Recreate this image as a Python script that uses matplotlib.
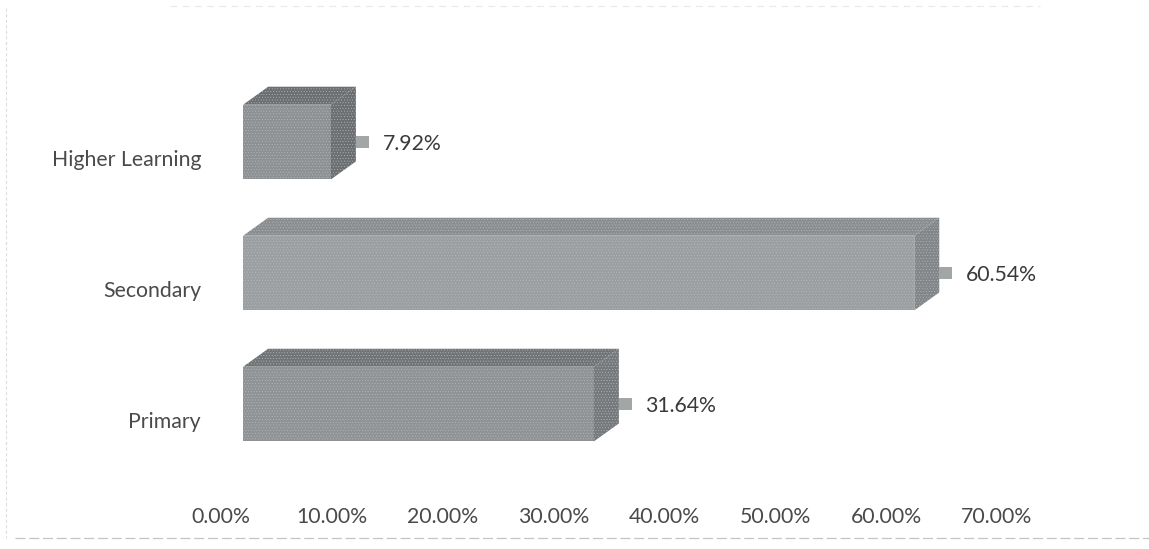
#3D style horizontal bar chart of share by education level

import matplotlib.pyplot as plt
from matplotlib.lines import Line2D
from matplotlib.patches import Polygon

plt.rcParams['font.family'] = ['Lato', 'DejaVu Sans']
plt.rcParams['hatch.linewidth'] = 0.3

categories = ['Primary', 'Secondary', 'Higher Learning']
values = [31.64, 60.54, 7.92]
ticks = [0, 10, 20, 30, 40, 50, 60, 70]

bar_start = 2.0
bar_height = 0.57
depth_x = 2.25
depth_y = 0.137
label_drop = 0.125

front_colors = ['#909395', '#9c9fa1', '#8e9193']
top_colors = ['#707476', '#8a8e90', '#6b6f71']
side_colors = ['#75797b', '#828688', '#6b6f71']
grain = '#b9bcbd'


def face(points, color):
    ax.add_patch(Polygon(points, facecolor=color, edgecolor=grain, hatch='......', lw=0))


fig = plt.figure(figsize=(11.49, 5.49), dpi=100)
ax = fig.add_axes([221 / 1149, 1 - 490 / 549, 776 / 1149, 430 / 549])
ax.set_xlim(0, 70)
ax.set_ylim(-0.656, 2.626)

for i, v in enumerate(values):
    x0 = bar_start
    x1 = bar_start + v
    y0 = i - bar_height / 2
    y1 = i + bar_height / 2

    # front, top and side faces of the box
    face([(x0, y0), (x1, y0), (x1, y1), (x0, y1)], front_colors[i])
    face([(x0, y1), (x1, y1), (x1 + depth_x, y1 + depth_y), (x0 + depth_x, y1 + depth_y)], top_colors[i])
    face([(x1, y0), (x1 + depth_x, y0 + depth_y), (x1 + depth_x, y1 + depth_y), (x1, y1)], side_colors[i])

    # small key next to the value label
    kx = x1 + depth_x
    ax.add_patch(Polygon([(kx, i - 0.045), (kx + 1.15, i - 0.045), (kx + 1.15, i + 0.045), (kx, i + 0.045)],
                         color='#a3a6a7', lw=0))
    ax.text(kx + 2.4, i - 0.015, '%.2f%%' % v, ha='left', va='center', fontsize=15.3, color='#3a3a3a')

ax.set_xticks(ticks)
ax.set_xticklabels(['%.2f%%' % t for t in ticks], fontsize=15.3, color='#4a4a4a')
ax.set_yticks([i - label_drop for i in range(len(categories))])
ax.set_yticklabels(categories, fontsize=15.3, color='#4a4a4a')
ax.tick_params(axis='x', length=0, pad=12)
ax.tick_params(axis='y', length=0, pad=14.4)
for s in ax.spines.values():
    s.set_visible(False)

# faint chart border
border = '#dddddd'
fig.add_artist(Line2D([6 / 1149, 6 / 1149], [1 - 8 / 549, 1 - 538 / 549], color=border, lw=0.8, ls=(0, (3, 2))))
fig.add_artist(Line2D([170 / 1149, 1040 / 1149], [1 - 6 / 549, 1 - 6 / 549], color='#e8e8e8', lw=0.8, ls=(0, (6, 5))))
fig.add_artist(Line2D([15 / 1149, 1149 / 1149], [1 - 538 / 549, 1 - 538 / 549], color='#c4c4c4', lw=0.9, ls=(0, (8, 3))))

fig.savefig('out.png', dpi=100)
